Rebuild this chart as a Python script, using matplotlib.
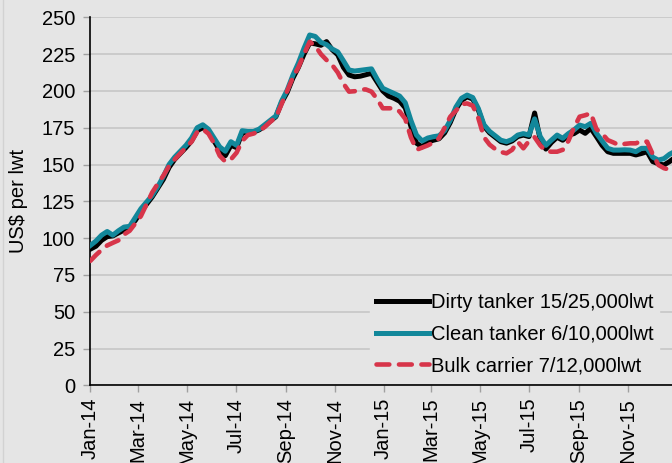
import matplotlib.pyplot as plt
import matplotlib.dates as mdates
import matplotlib.lines as mlines
import numpy as np
import pandas as pd

# weekly prices, first week of Jan 2014 to end of 2015
start_week = "2014-01-01"

dirty_tanker = [92.5, 94.5, 98.5, 101, 101.5, 103.5, 105.5, 107.7, 112, 118,
                123, 128, 134, 140, 148, 153.5, 157.5, 161.5, 166, 173,
                175, 172.5, 166, 159.5, 156, 163, 161.5, 171.5, 172, 172,
                173.5, 176, 179.5, 182.5, 192, 199, 208.5, 216, 225, 232.5,
                232, 231, 233.5, 228, 224.5, 216, 210.8, 209.6, 210, 211,
                212, 206, 200, 196.5, 195, 193, 188.5, 176, 164.5, 162,
                165.5, 166.5, 167.5, 171.5, 178.5, 187.5, 193.5, 196, 194.5, 187,
                176, 171.5, 168.5, 165.5, 164.5, 166, 169, 170, 169, 185,
                167, 160.5, 165, 168.5, 166.5, 170, 171, 173.4, 171.2, 174.6,
                168.9, 163, 158.7, 157.6, 157.6, 157.6, 157.6, 156.5, 157.5, 158.7,
                152, 150.5, 149.7, 152, 155]

clean_tanker = [95, 98, 102, 104.5, 102, 105, 107.5, 108, 114, 120,
                124.5, 129, 135, 142, 150, 155, 159, 163, 168, 175,
                177, 174, 168, 162, 159, 165.5, 163, 173, 172.5, 172.5,
                174, 177, 180, 183, 193, 200.5, 210.5, 219, 229, 238,
                237, 233, 231.5, 228.5, 226.5, 220.5, 214.2, 213.5, 214, 214.5,
                215, 208, 201.8, 200, 198.3, 196.5, 192, 180, 170, 166,
                168, 168.9, 169.5, 173, 180, 189, 195, 197.2, 195.5, 188,
                177, 172.5, 169.5, 166.5, 165.5, 167, 170, 171, 170, 181,
                169, 163, 166.6, 170, 167.8, 171, 173.5, 176.8, 175.7, 178,
                171.2, 166, 161, 159.8, 159.8, 160, 159.8, 158.7, 161, 161,
                155, 153, 154, 157, 159]

bulk_carrier = [84.5, 88.5, 92, 95, 96.8, 98.5, 102.5, 105, 110, 115,
                123, 131, 137, 142.5, 149, 153.5, 157.5, 161.5, 165.5, 172,
                174, 171, 164.5, 156, 152, 153.5, 158, 166, 170, 171,
                172.5, 175.5, 179, 182, 191, 200, 209, 216, 225, 233.4,
                230.5, 225, 221, 217.6, 212.5, 205, 199.5, 199.8, 201, 201,
                199.5, 194.5, 188.2, 188.2, 188.2, 186, 181, 168.5, 160, 161.5,
                163, 165, 167.8, 175, 182.5, 186.5, 191, 191.5, 190, 181.4,
                168.5, 163.5, 160.5, 158.5, 157.6, 160, 165.5, 161, 166, 168.5,
                163, 159, 158.7, 158.7, 160, 166, 175, 182.5, 183.5, 184.8,
                174, 171, 166.6, 165, 163.2, 164, 164.4, 164.4, 166, 165.5,
                157, 149.7, 147.5, 146.5, 147.5]

labels = ["Dirty tanker 15/25,000lwt", "Clean tanker 6/10,000lwt", "Bulk carrier 7/12,000lwt"]
colors = ["black", "#12879a", "#d7354a"]

weeks = pd.date_range(start_week, periods=len(dirty_tanker), freq="7D")

bg = "#e5e5e5"
plt.rcParams["font.family"] = ["Liberation Sans", "DejaVu Sans"]

fig = plt.figure(figsize=(6.72, 4.63), dpi=100, facecolor=bg)
ax = fig.add_axes([0.1344, 0.1678, 1 - 0.1344, 0.9626 - 0.1678])
ax.set_facecolor(bg)

ax.plot(weeks, dirty_tanker, color=colors[0], lw=3.6, solid_joinstyle="round", zorder=3)
ax.plot(weeks, clean_tanker, color=colors[1], lw=3.6, solid_joinstyle="round", zorder=4)
ax.plot(weeks, bulk_carrier, color=colors[2], lw=3.3, dashes=(2.8, 2.1),
        dash_capstyle="round", zorder=5)

ax.set_ylim(0, 250)
ax.set_yticks(np.arange(0, 251, 25))
ax.set_xlim(pd.Timestamp("2014-01-01"), pd.Timestamp("2015-12-26"))
ax.xaxis.set_major_locator(mdates.MonthLocator(bymonth=[1, 3, 5, 7, 9, 11]))
ax.xaxis.set_major_formatter(mdates.DateFormatter("%b-%y"))
ax.grid(axis="y", color="#c6c6c6", lw=1.2)
ax.set_axisbelow(True)

for s in ["top", "right"]:
    ax.spines[s].set_visible(False)
ax.spines["left"].set_linewidth(1.2)
ax.spines["bottom"].set_linewidth(1.2)
ax.tick_params(axis="both", labelsize=14.5, color="#a0a0a0", length=5, width=1, direction="out")
ax.tick_params(axis="y", pad=6)
ax.tick_params(axis="x", labelrotation=90, pad=4)
ax.set_ylabel("US$ per lwt", fontsize=14.5, labelpad=10)

handles = [mlines.Line2D([], [], color=colors[0], lw=3.6),
           mlines.Line2D([], [], color=colors[1], lw=3.6),
           mlines.Line2D([], [], color=colors[2], lw=3.3, dashes=(2.8, 2.1), dash_capstyle="round")]
leg = ax.legend(handles, labels, loc="lower right", bbox_to_anchor=(0.985, 0.0),
                frameon=True, fontsize=14.5, handlelength=2.6, handletextpad=0.1,
                labelspacing=0.62, borderaxespad=0.2, borderpad=0.3)
leg.get_frame().set_facecolor(bg)
leg.get_frame().set_edgecolor(bg)
leg.get_frame().set_alpha(1)
leg.set_zorder(6)

fig.add_artist(mlines.Line2D([0.0045, 0.0045], [0, 1], color="#d2d2d2", lw=1))

plt.savefig("out.png", dpi=100, facecolor=bg)
